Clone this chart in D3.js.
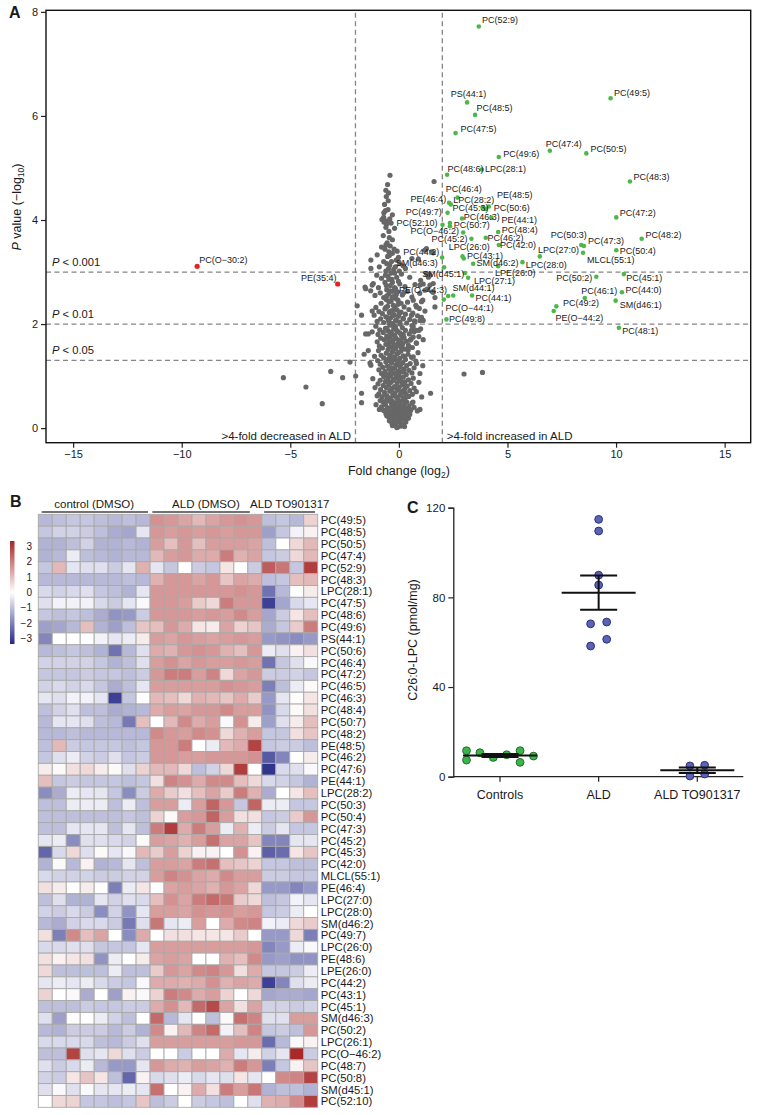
<!DOCTYPE html>
<html><head><meta charset="utf-8">
<script src="https://cdn.jsdelivr.net/npm/d3@7"></script>
<style>
body{margin:0;background:#fff}
svg{display:block}
text{font-family:"Liberation Sans",Arial,Helvetica,sans-serif;fill:#1a1a1a}
</style></head>
<body><svg id="c" width="760" height="1115"></svg>
<script>
// ---------------- DATA ----------------
// Panel A: volcano
const xTicksA = [-15,-10,-5,0,5,10,15];
const yTicksA = [0,2,4,6,8];
const foldThresholds = [-2, 2];
const pThresholds = [3, 2, 1.301];
const pThresholdLabels = ["0.001","0.01","0.05"];

const grayPts = [
[-0.05,0.02],[0.10,0.04],[-0.20,0.06],[0.22,0.08],[-0.32,0.10],[0.05,0.11],[-0.12,0.13],[0.30,0.15],[-0.40,0.16],[0.15,0.18],[-0.25,0.19],[0.00,0.21],[-0.48,0.22],[0.38,0.23],[-0.08,0.24],[0.26,0.03],[-0.30,0.05],[0.12,0.07],[-0.16,0.09],[0.32,0.12],[-0.44,0.14],[-0.02,0.16],[0.44,0.19],[-0.36,0.22],[0.18,0.24],[-0.22,0.25],[0.06,0.26],[-0.56,0.24],[0.50,0.26],[-0.10,0.01],
[-0.60,0.28],[0.40,0.29],[-0.15,0.30],[0.20,0.31],[-0.38,0.32],[0.02,0.33],[-0.70,0.34],[0.55,0.35],[-0.27,0.36],[0.30,0.37],[-0.05,0.38],[-0.50,0.39],[0.12,0.40],[-0.80,0.41],[0.46,0.42],[-0.20,0.43],[0.24,0.44],[-0.62,0.45],[0.04,0.46],[-0.34,0.47],[0.60,0.48],[-0.12,0.49],[0.36,0.50],[-0.74,0.51],[-0.44,0.52],[0.16,0.53],[-0.02,0.54],[-0.56,0.55],[0.50,0.30],[-0.90,0.36],[0.70,0.40],[-0.30,0.41],[0.08,0.36],[-0.66,0.48],[0.28,0.52],[-0.24,0.33],[0.65,0.50],[-1.05,0.45],[0.85,0.33],[-0.86,0.53],
[-0.40,0.57],[0.22,0.58],[-0.10,0.59],[-0.78,0.60],[0.45,0.61],[-0.55,0.62],[0.05,0.63],[-0.28,0.64],[0.62,0.65],[-0.92,0.66],[0.30,0.67],[-0.18,0.68],[-0.66,0.69],[0.12,0.70],[-0.42,0.71],[0.50,0.72],[-0.04,0.73],[-0.84,0.74],[0.26,0.75],[-0.32,0.76],[0.70,0.77],[-0.58,0.78],[0.02,0.79],[-0.20,0.80],[0.38,0.81],[-0.72,0.82],[-0.46,0.83],[0.16,0.84],[-0.96,0.85],[0.56,0.86],[-0.08,0.87],[-0.36,0.88],[0.28,0.89],[-0.62,0.90],[0.08,0.91],[-0.86,0.92],[0.44,0.93],[-0.24,0.94],[-0.50,0.95],[0.66,0.96],[-0.12,0.97],[0.20,0.98],[-0.70,0.99],[-0.38,1.00],[0.80,0.70],[-1.10,0.78],[0.92,0.88],[-1.20,0.95],[1.05,0.60],[-1.00,0.62],
[0.00,1.01],[-0.56,1.02],[0.34,1.03],[-0.16,1.04],[-0.80,1.05],[0.60,1.06],[-0.30,1.07],[0.14,1.08],[-0.64,1.09],[-0.02,1.10],[0.46,1.11],[-0.92,1.12],[-0.44,1.13],[0.24,1.14],[-0.20,1.15],[0.70,1.16],[-0.74,1.17],[0.06,1.18],[-0.52,1.19],[0.36,1.20],[-0.10,1.22],[-0.86,1.23],[0.52,1.24],[-0.34,1.25],[0.18,1.26],[-0.60,1.27],[-0.06,1.28],[0.78,1.29],[-0.98,1.30],[-0.26,1.31],[0.30,1.32],[-0.48,1.33],[0.04,1.34],[-0.70,1.35],[0.58,1.36],[-0.18,1.37],[-0.40,1.38],[0.20,1.39],[-0.82,1.40],[0.42,1.42],[-0.08,1.43],[-0.58,1.44],[0.88,1.45],[-0.30,1.46],[0.10,1.48],[-0.94,1.49],[1.10,1.20],[-1.12,1.38],
[-0.50,1.51],[0.28,1.52],[-0.14,1.53],[-0.76,1.54],[0.62,1.55],[-0.36,1.56],[0.08,1.57],[-0.90,1.58],[0.44,1.59],[-0.22,1.60],[-0.60,1.61],[0.18,1.62],[-0.04,1.63],[0.80,1.64],[-0.46,1.65],[-1.00,1.66],[0.34,1.67],[-0.28,1.68],[0.02,1.69],[-0.68,1.70],[0.56,1.71],[-0.12,1.72],[-0.84,1.73],[0.24,1.74],[-0.40,1.75],[0.92,1.76],[-0.56,1.77],[0.12,1.78],[-0.20,1.79],[-0.96,1.80],[0.48,1.81],[-0.34,1.82],[0.04,1.83],[-0.72,1.84],[0.70,1.85],[-0.06,1.86],[-0.50,1.87],[0.30,1.88],[-0.88,1.89],[-0.24,1.90],[1.00,1.91],[-0.62,1.92],[0.16,1.93],[-0.16,1.95],[-1.06,1.96],[0.60,1.97],[-0.42,1.98],[1.12,1.70],
[-0.30,2.01],[0.36,2.02],[-0.70,2.03],[0.04,2.04],[-1.00,2.05],[0.72,2.06],[-0.48,2.07],[-0.12,2.08],[0.50,2.09],[-0.84,2.10],[0.20,2.11],[-0.38,2.12],[1.04,2.13],[-0.60,2.14],[-0.02,2.15],[0.86,2.16],[-1.14,2.17],[-0.22,2.18],[0.30,2.19],[-0.76,2.20],[0.64,2.21],[-0.44,2.22],[0.10,2.23],[-0.92,2.24],[1.20,2.25],[-0.32,2.26],[-0.08,2.27],[0.46,2.28],[-0.64,2.29],[0.94,2.30],[-0.18,2.31],[-1.06,2.32],[0.24,2.33],[-0.52,2.34],[0.78,2.36],[-0.04,2.38],[-0.82,2.40],[0.40,2.42],[-0.36,2.44],[1.10,2.46],[-0.58,2.47],[-0.14,2.49],
[-0.70,2.51],[0.60,2.52],[-0.26,2.53],[-1.10,2.55],[0.16,2.56],[-0.46,2.58],[0.96,2.59],[-0.86,2.60],[-0.06,2.62],[0.40,2.63],[-1.30,2.64],[-0.56,2.66],[1.30,2.67],[-0.16,2.68],[-0.94,2.70],[0.28,2.72],[-0.40,2.74],[0.74,2.76],[-1.18,2.78],[-0.64,2.80],[-0.02,2.82],[1.00,2.84],[-0.32,2.86],[-0.80,2.88],[0.50,2.90],[-0.50,2.92],[-1.02,2.94],[0.12,2.96],[-0.20,2.98],[1.36,2.90],
[-0.60,3.02],[-0.24,3.05],[0.30,3.07],[-0.90,3.10],[-0.42,3.13],[0.04,3.16],[-0.70,3.20],[-0.12,3.23],[0.60,3.26],[-0.52,3.30],[-1.00,3.33],[-0.30,3.36],[-0.08,3.40],[-0.64,3.44],[0.20,3.12],[-0.80,3.48],[-0.40,3.50],[0.90,3.25],
[-0.54,3.56],[-0.30,3.62],[-0.72,3.70],[-0.46,3.78],[-0.60,3.86],[-0.36,3.94],[-0.70,4.05],[-0.50,4.20],[-0.66,4.30],[-0.30,4.10],[-0.58,4.45],[-0.20,3.84],
[-5.32,0.97],[-4.28,0.79],[-3.53,0.47],[-3.14,1.09],[-2.59,0.97],[-2.25,1.27],[-1.99,1.00],[-1.92,2.35],[-1.72,2.17],[-1.72,0.67],[-1.72,0.49],[-1.60,1.42],[-1.56,2.71],[-1.53,2.68],[-1.29,3.23],[-1.29,3.07],[-1.23,2.25],[-1.23,2.75],[-1.41,1.49],[-1.53,1.81],[-1.41,1.81],[-1.23,1.85],[-1.33,1.25],[-1.29,1.21],[3.00,1.04],[3.85,1.07],[1.46,0.67],[0.97,0.36],[-0.46,3.39],[-0.29,2.63],[1.58,2.61],[1.66,2.33],[1.27,3.45],[1.50,3.39],[1.04,2.43],[1.12,2.77],[1.43,2.75],[-0.41,4.86],[1.62,4.74],[-0.60,4.57],[-0.49,4.37],[-0.69,4.14],[-0.69,3.96],[-0.57,3.92],[-0.78,4.01],
[1.20,3.42],[1.58,3.37],[1.27,2.97],[1.43,2.94],[1.58,2.78],[1.20,2.65],[1.55,2.62],[1.66,2.51],[0.97,2.75],[0.66,2.46],[0.81,2.33],[0.58,2.17],[1.12,2.07],[0.74,2.04],[0.93,1.88],[0.58,1.88],[0.66,1.75],[0.81,1.63],[0.66,1.95],[0.81,1.88],[0.97,2.07],[0.51,1.69],[0.43,1.50],[0.66,1.37],[0.81,1.24],[0.97,1.05],[0.35,0.60],[0.20,0.22],
[-0.35,0.27],[-0.08,0.35],[0.18,0.42],[-0.48,0.58],[-0.22,0.62],[0.10,0.66],[-0.36,0.74],[-0.14,0.78],[0.32,0.80],[-0.52,0.88],[-0.26,0.92],[0.00,0.95],[-0.44,1.04],[-0.08,1.06],[0.22,1.10],[-0.36,1.16],[-0.14,1.21],[0.12,1.24],[-0.50,1.30],[-0.20,1.34],[0.26,1.37],[-0.40,1.41],[-0.02,1.45],[-0.26,1.50],[0.16,1.54],[-0.46,1.58],[-0.08,1.60],[-0.32,1.66],[0.10,1.68],[-0.52,1.72],[-0.18,1.76],[0.20,1.80],[-0.40,1.84],[-0.10,1.88],[-0.56,1.92],[-0.28,1.97],[0.06,2.00],[-0.44,2.04],[-0.16,2.06],[0.20,2.10],[-0.54,2.13],[-0.28,2.16],[0.02,2.20],[-0.42,2.24],[-0.14,2.28],[-0.60,2.32],[-0.26,2.36],[0.10,2.40],[-0.46,2.43],[-0.04,2.46],[-0.32,2.50],[-0.56,2.54],[-0.12,2.57],[0.22,2.60],[-0.40,2.64],[-0.20,2.70],[-0.58,2.74],[0.04,2.77],[-0.30,2.80],[-0.46,2.86],[-0.10,2.90],[-0.62,2.94],[-0.36,2.98],[0.02,3.02],[-0.48,3.06],[-0.16,3.10],[-0.56,3.16],[-0.34,3.20],[-0.02,3.28],[-0.44,3.32],[-0.22,3.44],[-0.60,3.52],[-0.44,3.66],[-0.56,3.98],[-0.42,4.02],[-0.62,4.18],[-0.48,4.52],[-0.52,4.68],
[-0.18,0.12],[0.04,0.14],[-0.28,0.28],[0.28,0.20],[-0.42,0.30],[0.12,0.28],[-0.14,0.20],[0.36,0.34],[-0.56,0.36],[-0.06,0.45],[0.24,0.56],[-0.30,0.52],[0.40,0.62],[-0.64,0.64]
];

// significant increased (green): name, fold change, -log10 P, label anchor (fold, -log10 P)
const upNames = ["PC(52:9)","PS(44:1)","PC(48:5)","PC(47:5)","PC(49:5)","PC(47:4)","PC(50:5)","PC(49:6)","PC(48:6)","LPC(28:1)","PC(48:3)","PC(46:4)","PE(46:4)","LPC(28:2)","PC(49:7)","PC(45:3)","PE(48:5)","PC(50:6)","PC(46:3)","PE(44:1)","PC(52:10)","PC(50:7)","","PC(O−46:2)","PC(48:4)","PC(45:2)","PC(46:2)","PC(42:0)","PC(50:3)","PC(47:3)","MLCL(55:1)","PC(48:2)","PC(47:2)","PC(50:4)","LPC(27:0)","LPC(28:0)","LPC(26:0)","PC(43:1)","SM(d46:2)","PC(44:2)","SM(d46:3)","SM(d45:1)","LPC(27:1)","LPE(26:0)","PC(50:2)","PC(45:1)","PC(44:0)","PC(46:1)","SM(d46:1)","PC(49:2)","PE(O−44:2)","PC(48:1)","PC(49:8)","PC(O−44:1)","PE(O−44:3)","SM(d44:1)","PC(44:1)"];
const upFC = [3.68,3.14,3.51,2.61,9.75,6.95,8.63,4.60,2.22,3.82,10.64,2.70,2.31,2.39,2.24,3.85,4.14,4.00,2.91,4.26,2.01,2.35,2.35,2.96,4.57,3.34,4.00,4.60,8.40,8.52,8.48,11.18,10.01,10.01,6.49,5.69,2.93,2.99,3.42,1.99,2.08,3.04,3.19,4.57,9.09,10.36,10.27,8.56,9.98,7.25,7.13,10.13,2.19,2.07,2.27,2.50,3.37];
const upP  = [7.72,6.26,6.02,5.67,6.34,5.33,5.28,5.21,4.87,4.97,4.74,4.43,4.33,4.30,4.14,4.24,4.26,4.21,4.03,4.04,3.91,3.94,3.88,3.76,3.77,3.64,3.66,3.52,3.52,3.50,3.37,3.64,4.05,3.42,3.30,3.19,3.30,3.26,3.16,3.28,3.09,2.98,2.89,3.11,2.91,2.96,2.61,2.50,2.45,2.34,2.25,1.93,2.09,2.47,2.54,2.55,2.55];
const upLabFC = [3.83,2.39,3.57,2.84,9.90,6.76,8.82,4.80,2.24,3.96,10.80,2.16,0.54,2.50,0.31,2.47,4.52,4.37,2.99,4.72,-0.11,2.53,0,0.54,4.74,1.50,4.08,4.66,6.99,8.71,8.66,11.35,10.17,10.17,6.41,5.84,2.30,3.14,3.57,0.20,-0.14,1.07,3.46,4.42,7.25,10.47,10.43,8.40,10.17,7.56,7.21,10.29,2.31,2.15,0.01,2.47,3.53];
const upLabP  = [7.84,6.43,6.15,5.76,6.45,5.47,5.37,5.28,4.98,4.98,4.82,4.59,4.41,4.39,4.15,4.24,4.49,4.24,4.07,4.01,3.94,3.91,0,3.79,3.82,3.63,3.65,3.52,3.72,3.59,3.23,3.72,4.14,3.41,3.42,3.14,3.48,3.31,3.18,3.39,3.18,2.96,2.84,2.99,2.89,2.89,2.65,2.63,2.36,2.40,2.12,1.86,2.10,2.31,2.65,2.70,2.50];

// significant decreased (red)
const downNames = ["PC(O−30:2)","PE(35:4)"];
const downFC = [-9.29,-2.82];
const downP = [3.11,2.77];
const downLabFC = [-9.19,-4.51];
const downLabP = [3.24,2.88];

// Panel B: heatmap
const groupNames = ["control (DMSO)","ALD (DMSO)","ALD TO901317"];
const groupSizes = [8,8,4];
const heatRows = ["PC(49:5)","PC(48:5)","PC(50:5)","PC(47:4)","PC(52:9)","PC(48:3)","LPC(28:1)","PC(47:5)","PC(48:6)","PC(49:6)","PS(44:1)","PC(50:6)","PC(46:4)","PC(47:2)","PC(46:5)","PC(46:3)","PC(48:4)","PC(50:7)","PC(48:2)","PE(48:5)","PC(46:2)","PC(47:6)","PE(44:1)","LPC(28:2)","PC(50:3)","PC(50:4)","PC(47:3)","PC(45:2)","PC(45:3)","PC(42:0)","MLCL(55:1)","PE(46:4)","LPC(27:0)","LPC(28:0)","SM(d46:2)","PC(49:7)","LPC(26:0)","PE(48:6)","LPE(26:0)","PC(44:2)","PC(43:1)","PC(45:1)","SM(d46:3)","PC(50:2)","LPC(26:1)","PC(O−46:2)","PC(48:7)","PC(50:8)","SM(d45:1)","PC(52:10)"];
const heatValues = [
[-1.1,-1.0,-0.9,-0.9,-1.0,-1.1,-1.0,-1.1, 1.7,1.6,1.4,1.1,1.4,1.6,1.7,1.6, -1.0,-0.9,-1.1,0.7],
[-0.9,-0.7,-0.7,-0.8,-1.0,-1.3,-1.4,-0.4, 1.6,1.5,1.6,1.5,1.6,1.5,1.6,1.6, -1.5,-0.9,-0.2,0.2],
[-1.2,-1.2,-1.0,-0.7,-1.2,-1.2,-1.1,-1.2, 1.5,1.0,1.6,1.0,1.5,1.5,1.5,1.4, -1.0,0.0,0.6,1.1],
[-1.2,-1.1,-0.3,-1.0,-1.1,-1.2,-1.1,-1.1, 1.1,1.5,1.6,1.3,1.3,2.0,1.2,1.4, -0.9,-0.8,0.6,1.1],
[-0.9,1.1,-0.4,-0.5,-0.5,-0.8,-0.4,1.2, -0.4,-0.9,0.0,-0.8,-0.9,0.4,0.0,-0.8, 2.5,2.1,-0.9,3.0],
[-1.1,-1.1,-1.1,-1.1,-1.1,-1.1,-1.0,-1.1, 1.2,1.6,1.6,1.4,1.6,0.9,1.4,1.3, -1.0,-0.9,1.0,1.1],
[-0.6,-0.7,-0.6,-0.5,-0.9,-1.0,-1.2,-0.4, 1.6,1.6,1.6,1.6,1.6,1.6,1.7,1.6, -2.2,-1.1,0.0,0.3],
[-0.5,-0.2,-0.2,-0.2,-0.6,-0.8,-0.4,-0.1, 1.6,1.6,1.5,0.8,0.6,2.0,1.6,1.6, -3.0,-1.4,-0.6,-0.4],
[-0.9,-1.0,-0.9,-1.0,-1.3,-1.7,-1.6,-0.8, 1.6,1.6,1.6,1.5,1.6,1.5,1.8,1.5, -1.4,-0.8,0.4,1.0],
[-1.5,-1.4,-1.1,1.0,-1.2,-1.5,-1.0,0.9, 1.0,1.6,1.3,0.4,0.3,1.4,0.7,0.9, -1.3,-0.9,0.8,2.0],
[-1.9,0.0,0.0,0.0,-0.2,-0.4,-0.3,0.3, 1.5,1.4,1.6,1.5,1.4,1.5,1.6,1.5, -1.6,-1.7,-1.8,-1.6],
[-1.1,-1.0,-0.9,-1.0,-1.2,-2.2,-1.1,-0.5, 1.3,1.2,1.6,1.7,1.6,1.2,1.0,1.6, -0.3,-0.5,0.2,0.5],
[-0.7,-0.7,-0.7,-0.7,-0.9,-1.2,-1.0,-0.5, 1.5,1.7,1.4,1.6,1.5,1.5,1.6,1.5, -2.2,-0.9,-0.5,-0.1],
[-0.9,-0.9,-0.9,-0.8,-0.9,-0.9,-1.0,-0.8, 1.6,2.0,2.0,1.5,1.9,0.6,1.4,1.6, -0.8,-0.8,-0.7,-0.9],
[-0.7,-0.6,-0.7,-0.6,-0.9,-1.3,-1.0,-0.4, 1.5,1.5,1.5,1.5,1.5,1.7,1.6,1.5, -2.0,-1.0,-0.3,0.1],
[-0.4,-0.5,-0.2,-0.2,-0.4,-3.0,-0.9,0.0, 1.1,1.0,0.6,1.2,1.1,0.9,1.3,0.8, -1.6,-0.4,0.05,0.4],
[-1.0,-0.7,-0.5,-1.0,-1.0,-1.3,-1.2,-1.1, 1.3,1.5,1.4,1.6,1.6,1.8,1.5,1.5, -1.7,-0.6,0.1,0.5],
[-1.1,-0.4,-0.4,-0.5,-1.0,-1.1,-2.1,1.0, 0.0,1.1,1.8,1.3,1.5,-0.1,1.7,0.3, -1.5,-0.5,0.3,1.0],
[-1.1,-1.1,-1.0,-1.1,-1.1,-1.1,-1.1,-1.1, 1.8,1.6,1.5,1.8,1.7,0.6,1.2,1.5, -0.9,-0.9,0.5,0.9],
[-1.0,1.1,-0.8,-0.9,-0.9,-0.9,-1.0,-0.9, 1.6,1.6,2.0,0.0,-0.3,1.1,1.3,2.9, -0.9,-0.8,-0.8,-1.0],
[-0.9,-0.5,-0.3,-0.7,-0.8,-0.5,-0.9,-0.8, 1.6,1.6,1.5,1.5,1.6,1.6,1.6,1.7, -2.6,-1.9,0.0,0.3],
[0.3,0.1,0.5,0.6,0.3,0.1,-0.5,0.7, 1.1,1.1,0.6,-1.0,-0.7,0.6,3.0,0.0, -3.2,-0.6,-0.5,-0.1],
[1.0,-0.9,-0.8,-0.9,-0.9,-0.9,-1.0,-0.9, 0.5,1.9,1.7,1.3,1.8,1.8,1.0,0.6, -0.6,-0.7,-0.9,-1.2],
[-1.8,-1.3,-0.3,-0.4,-0.4,-0.9,-1.8,-0.8, 1.3,0.8,0.5,1.0,1.4,0.8,2.0,1.2, -1.3,0.0,0.4,1.0],
[-1.0,-1.0,-0.3,-0.3,-0.3,-1.0,-0.3,-1.0, 1.5,1.5,-0.3,1.5,2.4,1.6,-0.9,2.4, -0.3,-0.3,-0.9,-0.9],
[-1.0,-1.0,-1.0,-1.0,-1.0,-1.0,-0.9,-1.0, 0.7,0.1,1.5,1.6,2.4,1.5,0.5,0.5, -0.9,-0.8,0.8,1.6],
[-1.0,-1.0,-0.4,-0.4,-0.4,-1.0,-0.4,-1.0, 2.0,3.0,1.3,2.0,1.5,-0.3,1.2,-0.3, -0.8,-0.4,-0.9,-0.9],
[-0.4,-0.3,-1.8,-0.5,-0.5,-0.6,-0.7,0.1, 1.5,1.4,1.2,1.5,2.2,1.4,1.4,0.9, -1.9,-1.9,-0.4,-0.4],
[-2.4,-0.6,0.6,-0.5,0.1,-0.4,-0.1,1.1, 0.8,1.5,0.7,0.2,0.2,0.0,1.7,0.2, -2.5,-2.3,0.4,0.9],
[-1.2,0.1,-1.1,0.2,-1.2,-1.1,-0.4,-1.0, 1.5,1.5,1.4,2.0,2.2,1.0,0.9,0.7, -0.9,-0.9,-1.0,-1.0],
[-0.6,-0.7,-0.7,-0.7,-0.8,-0.8,-0.7,-0.7, 1.5,1.9,1.7,1.4,1.3,1.8,1.5,1.5, -0.8,-0.8,-0.9,-0.9],
[0.5,0.3,0.0,0.3,0.05,-2.0,-0.3,0.4, 0.0,1.4,1.5,1.4,1.2,1.6,1.4,0.6, -1.6,-1.6,-1.9,-1.6],
[-1.0,-0.5,-1.2,-1.2,-0.4,-0.7,-0.5,-0.6, 1.0,1.7,1.4,2.0,2.3,2.1,0.8,0.6, -1.0,-0.9,-0.2,-0.4],
[-0.7,-0.8,-0.6,-0.8,-1.8,-0.7,-1.7,-0.4, 1.5,1.5,1.4,1.7,1.6,1.7,1.5,1.6, -0.9,-0.8,-0.3,0.0],
[-1.1,-1.3,-0.7,-0.6,-0.6,-0.8,-2.1,-0.5, 2.1,-0.4,-0.3,1.5,0.0,1.3,1.8,1.9, -0.2,-0.3,0.6,0.8],
[0.5,-2.0,1.8,1.0,1.4,0.0,-1.8,1.3, 0.0,0.5,0.5,0.4,0.4,0.4,0.8,0.0, -1.6,-1.6,0.6,-2.0],
[-0.6,-0.6,-0.5,-0.5,-0.9,-0.9,-0.9,-0.4, 1.5,1.5,1.5,1.5,1.5,1.5,1.5,1.6, -1.9,-1.6,-0.3,-0.1],
[0.5,0.2,0.4,0.5,-1.7,-0.3,0.0,0.3, 1.4,1.5,1.4,0.0,0.0,1.2,1.0,1.8, -1.6,-1.5,-1.7,-1.7],
[0.6,-1.0,-1.0,-1.0,-1.0,-0.3,-1.0,-1.0, 0.8,1.6,1.4,1.8,1.9,1.6,0.5,1.3, -0.9,-0.9,-0.8,-0.3],
[-0.4,-0.3,-0.4,-0.3,-0.6,-0.8,-0.9,-0.1, 1.3,1.3,1.2,1.3,1.7,1.2,1.4,1.3, -3.0,-1.9,-0.5,-0.3],
[0.7,0.0,-0.1,-1.3,0.0,-1.5,0.2,-0.1, 0.7,2.0,1.8,1.3,1.5,0.7,0.0,0.6, -1.4,-1.3,-1.3,-1.4],
[-1.0,-1.0,-1.0,-0.8,-0.9,-0.9,-0.8,-0.8, 1.3,1.7,1.1,2.3,2.8,1.4,0.5,1.4, -0.7,-0.7,-0.8,-0.7],
[-0.5,-1.5,-0.05,0.0,-0.3,-0.7,-1.0,0.0, 2.3,-1.1,-0.4,0.0,-1.0,0.1,2.2,1.9, -0.5,-0.5,1.5,1.5],
[-1.1,-1.2,-0.8,-0.8,-0.8,-1.1,-0.8,-1.2, 1.8,0.2,1.1,1.9,2.3,-0.2,1.0,1.9, -0.9,-0.8,-1.0,1.6],
[-0.6,-0.6,-0.6,-0.6,-1.0,-1.1,-0.8,-0.5, 1.5,1.5,1.5,1.5,1.5,1.5,1.6,1.6, -2.3,-1.1,-0.1,0.2],
[-1.0,-1.0,2.9,-0.5,-0.4,0.6,-0.5,-0.8, 0.0,0.0,-0.8,0.0,0.0,1.3,-0.4,0.3, -0.7,-0.4,3.3,-0.8],
[-0.5,-0.8,-0.6,-0.3,-1.1,-1.6,-1.6,-0.4, 1.6,1.3,1.2,1.5,1.4,1.2,2.0,1.6, -2.0,-0.9,0.2,0.9],
[-0.7,-0.8,0.4,0.9,0.4,-1.0,-2.4,0.2, -0.6,-0.5,-0.3,-0.6,-0.4,-0.5,0.4,-0.4, 0.0,1.8,1.9,2.9],
[-0.5,-0.1,-0.5,-0.1,-0.4,-0.4,-0.3,-0.4, 2.2,0.0,0.2,1.3,0.5,2.0,1.5,2.1, -1.2,-1.0,-1.0,-1.2],
[0.0,0.6,0.7,-0.9,-0.9,-1.0,-0.9,0.9, -1.0,-0.8,0.0,-0.8,-0.9,-1.0,0.0,-0.5, 1.2,1.3,1.8,3.0]
];
const legendTicks = [3,2,1,0,-1,-2,-3];

// Panel C: dot plot
const cCats = ["Controls","ALD","ALD TO901317"];
const cTicks = [0,40,80,120];
const ctrlVals = [11.6,10.7,8.6,9.8,11.6,9.2,7.4,6.4];
const ctrlSlot = [-2.5,-1.5,-0.5,0.5,1.5,2.5,-2.5,1.5];
const aldVals = [114.8,109.6,89.9,85.5,68.2,69.0,58.3,61.3];
const aldSlot = [0,0,0,0,-0.6,0.6,-0.6,0.6];
const toVals = [4.8,5.1,0.3,1.2];
const toSlot = [-0.55,0.55,-0.55,0.55];

// ---------------- DRAW ----------------
const svg = d3.select("#c");

// ===== Panel A =====
const xA = d3.scaleLinear().domain([-16.25,16.2]).range([46,750.7]);
const yA = d3.scaleLinear().domain([-0.28,8.03]).range([442.7,10.3]);
const gA = svg.append("g");

gA.selectAll("line.vt").data(foldThresholds).join("line")
  .attr("x1",d=>xA(d)).attr("x2",d=>xA(d)).attr("y1",yA.range()[0]).attr("y2",yA.range()[1])
  .attr("stroke","#858585").attr("stroke-width",1.3).attr("stroke-dasharray","5,3.5");
gA.selectAll("line.ht").data(pThresholds).join("line")
  .attr("x1",xA.range()[0]).attr("x2",xA.range()[1]).attr("y1",d=>yA(d)).attr("y2",d=>yA(d))
  .attr("stroke","#858585").attr("stroke-width",1.3).attr("stroke-dasharray","5,3.5");

gA.append("g").selectAll("circle").data(grayPts).join("circle")
  .attr("cx",d=>xA(d[0])).attr("cy",d=>yA(d[1])).attr("r",2.6).attr("fill","#676767");

const upIdx = d3.range(upNames.length);
gA.append("g").selectAll("circle").data(upIdx).join("circle")
  .attr("cx",i=>xA(upFC[i])).attr("cy",i=>yA(upP[i])).attr("r",2.3).attr("fill","#4db848");
gA.append("g").selectAll("text").data(upIdx.filter(i=>upNames[i])).join("text")
  .attr("x",i=>xA(upLabFC[i])).attr("y",i=>yA(upLabP[i])).attr("dy","0.35em")
  .attr("font-size",9).text(i=>upNames[i]);

const dnIdx = d3.range(downNames.length);
gA.append("g").selectAll("circle").data(dnIdx).join("circle")
  .attr("cx",i=>xA(downFC[i])).attr("cy",i=>yA(downP[i])).attr("r",2.6).attr("fill","#e8221e");
gA.append("g").selectAll("text").data(dnIdx).join("text")
  .attr("x",i=>xA(downLabFC[i])).attr("y",i=>yA(downLabP[i])).attr("dy","0.35em")
  .attr("font-size",9).text(i=>downNames[i]);

const pl = gA.append("g").selectAll("text").data(pThresholds).join("text")
  .attr("x",52).attr("y",d=>yA(d)-6).attr("font-size",11.2);
pl.append("tspan").attr("font-style","italic").text("P");
pl.append("tspan").text((d,i)=>" < "+pThresholdLabels[i]);

gA.append("text").attr("x",xA(-2)-4.5).attr("y",440).attr("text-anchor","end").attr("font-size",11.5).text(">4-fold decreased in ALD");
gA.append("text").attr("x",xA(2)+4.5).attr("y",440).attr("font-size",11.5).text(">4-fold increased in ALD");

const axL = gA.append("g").attr("transform",`translate(${xA.range()[0]},0)`)
  .call(d3.axisLeft(yA).tickValues(yTicksA).tickSize(5).tickPadding(3));
const axB = gA.append("g").attr("transform",`translate(0,${yA.range()[0]})`)
  .call(d3.axisBottom(xA).tickValues(xTicksA).tickSize(5).tickPadding(3));
[axL,axB].forEach(a=>{
  a.select(".domain").remove();
  a.selectAll(".tick line").attr("stroke","#222").attr("stroke-width",1.2);
  a.selectAll(".tick text").attr("font-size",11).attr("fill","#222").attr("font-family",'"Liberation Sans",Arial,sans-serif');
});
gA.append("rect").attr("x",xA.range()[0]).attr("y",yA.range()[1])
  .attr("width",xA.range()[1]-xA.range()[0]).attr("height",yA.range()[0]-yA.range()[1])
  .attr("fill","none").attr("stroke","#111").attr("stroke-width",1.4);

const xt = gA.append("text").attr("x",xA(0)).attr("y",475).attr("text-anchor","middle").attr("font-size",12.5);
xt.append("tspan").text("Fold change (log");
xt.append("tspan").attr("font-size",8.5).attr("dy",3).text("2");
xt.append("tspan").attr("dy",-3).text(")");
const yt = gA.append("text").attr("transform","translate(21,207) rotate(-90)").attr("text-anchor","middle").attr("font-size",12.5);
yt.append("tspan").attr("font-style","italic").text("P");
yt.append("tspan").text(" value (−log");
yt.append("tspan").attr("font-size",8.5).attr("dy",3).text("10");
yt.append("tspan").attr("dy",-3).text(")");
svg.append("text").attr("x",9).attr("y",18).attr("font-size",16).attr("font-weight","bold").text("A");

// ===== Panel B =====
const nCols = d3.sum(groupSizes);
const xB = d3.scaleBand().domain(d3.range(nCols)).range([38.3,317.7]);
const yB = d3.scaleBand().domain(heatRows).range([514.3,1107.3]);
const color = d3.scaleLinear().domain([-3.35,0,3.35]).range(["#262a87","#ffffff","#a82626"]).clamp(true);
const gB = svg.append("g");
heatValues.forEach((row,ri)=>{
  gB.append("g").selectAll("rect").data(row).join("rect")
    .attr("x",(v,ci)=>xB(ci)).attr("y",yB(heatRows[ri]))
    .attr("width",xB.bandwidth()).attr("height",yB.bandwidth())
    .attr("fill",v=>color(v)).attr("stroke","#a9a9a9").attr("stroke-width",0.9);
});
gB.append("g").selectAll("text").data(heatRows).join("text")
  .attr("x",xB.range()[1]+3).attr("y",d=>yB(d)+yB.bandwidth()/2).attr("dy","0.36em")
  .attr("font-size",11.3).text(d=>d);
const starts = groupSizes.map((s,i)=>d3.sum(groupSizes.slice(0,i)));
const insetR = [2,12,2.7];
groupNames.forEach((g,i)=>{
  const x0 = xB(starts[i]), x1 = xB(starts[i]+groupSizes[i]-1)+xB.bandwidth();
  gB.append("line").attr("x1",x0+(i===0?3.4:2.3)).attr("x2",x1-insetR[i]).attr("y1",512).attr("y2",512)
    .attr("stroke","#444").attr("stroke-width",1.7);
  gB.append("text").attr("x",(x0+x1)/2).attr("y",507.5).attr("text-anchor","middle").attr("font-size",11.5).text(g);
});
svg.append("text").attr("x",10).attr("y",507).attr("font-size",16).attr("font-weight","bold").text("B");
const yL = d3.scaleLinear().domain([-3.35,3.35]).range([644,541]);
const defs = svg.append("defs");
const grad = defs.append("linearGradient").attr("id","hg").attr("x1",0).attr("y1",1).attr("x2",0).attr("y2",0);
d3.range(0,1.0001,0.1).forEach(t=>{
  grad.append("stop").attr("offset",t).attr("stop-color",color(-3.35+t*6.7));
});
gB.append("rect").attr("x",10).attr("y",yL(3.35)).attr("width",4.5).attr("height",yL(-3.35)-yL(3.35)).attr("fill","url(#hg)");
gB.append("g").selectAll("text").data(legendTicks).join("text")
  .attr("x",32).attr("y",d=>yL(d)).attr("dy","0.35em").attr("text-anchor","end").attr("font-size",10)
  .text(d=>d3.format("")(d));

// ===== Panel C =====
const yC = d3.scaleLinear().domain([0,120]).range([776.7,507.7]);
const xC = d3.scalePoint().domain(cCats).range([500,697.3]);
const slotW = 13.4;
const gC = svg.append("g");
const axC = gC.append("g").attr("transform","translate(453.3,0)")
  .call(d3.axisLeft(yC).tickValues(cTicks).tickSize(5).tickPadding(3));
axC.select(".domain").attr("stroke","#222").attr("stroke-width",1.3);
axC.selectAll(".tick line").attr("stroke","#222").attr("stroke-width",1.2);
axC.selectAll(".tick text").attr("font-size",11.5).attr("fill","#222").attr("font-family",'"Liberation Sans",Arial,sans-serif');
gC.append("line").attr("x1",453.3).attr("x2",743.3).attr("y1",yC(0)).attr("y2",yC(0)).attr("stroke","#222").attr("stroke-width",1.3);
gC.selectAll("line.ct").data(cCats).join("line")
  .attr("x1",d=>xC(d)).attr("x2",d=>xC(d)).attr("y1",yC(0)).attr("y2",yC(0)+5).attr("stroke","#222").attr("stroke-width",1.2);
gC.selectAll("text.cl").data(cCats).join("text")
  .attr("x",d=>xC(d)).attr("y",799).attr("text-anchor","middle").attr("font-size",12.5).text(d=>d);
gC.append("text").attr("transform","translate(417,640) rotate(-90)").attr("text-anchor","middle").attr("font-size",12.5).text("C26:0-LPC (pmol/mg)");
svg.append("text").attr("x",407).attr("y",513).attr("font-size",16).attr("font-weight","bold").text("C");

const groups = [
  {cat:"Controls", vals:ctrlVals, slot:ctrlSlot, fill:"#3cb449", stroke:"#1f6f29"},
  {cat:"ALD", vals:aldVals, slot:aldSlot, fill:"#5a63b6", stroke:"#2a3079"},
  {cat:"ALD TO901317", vals:toVals, slot:toSlot, fill:"#5a63b6", stroke:"#2a3079"}
];
groups.forEach(g=>{
  const m = d3.mean(g.vals), sem = d3.deviation(g.vals)/Math.sqrt(g.vals.length);
  const cx = xC(g.cat);
  gC.append("g").selectAll("circle").data(g.vals).join("circle")
    .attr("cx",(v,i)=>cx+g.slot[i]*slotW).attr("cy",v=>yC(v)).attr("r",3.9)
    .attr("fill",g.fill).attr("stroke",g.stroke).attr("stroke-width",1);
  gC.append("line").attr("x1",cx-37).attr("x2",cx+37).attr("y1",yC(m)).attr("y2",yC(m)).attr("stroke","#111").attr("stroke-width",2);
  [m-sem,m+sem].forEach(v=>{
    gC.append("line").attr("x1",cx-18.5).attr("x2",cx+18.5).attr("y1",yC(v)).attr("y2",yC(v)).attr("stroke","#111").attr("stroke-width",2);
  });
  gC.append("line").attr("x1",cx).attr("x2",cx).attr("y1",yC(m-sem)).attr("y2",yC(m+sem)).attr("stroke","#111").attr("stroke-width",2);
});
</script></body></html>
